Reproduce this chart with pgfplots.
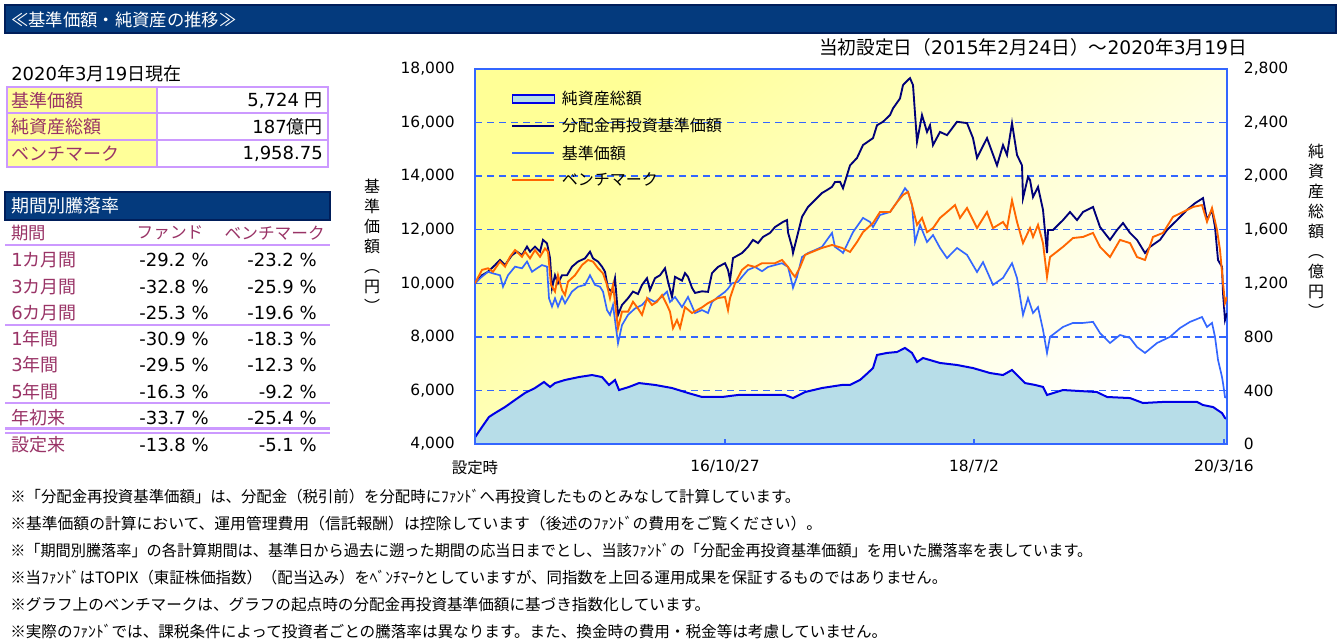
\documentclass[border=0pt]{standalone}
\usepackage{fontspec}
\setmainfont{Noto Sans CJK JP}
\newfontfamily\dv{DejaVu Sans}
\usepackage{graphicx}
\usepackage{pgfplots}
\usepackage{pgfplotstable}
\pgfplotsset{compat=1.18}
\pgfplotsset{/pgf/number format/assume math mode=true,/pgf/number format/1000 sep={,}}
\pgfplotsset{
  my line legend/.style={legend image code/.code={\draw[##1] (0pt,0pt) -- (31.5pt,0pt);}},
  my area legend/.style={legend image code/.code={\draw[##1] (0pt,-3pt) rectangle (31.5pt,3pt);}},
}

\definecolor{hdr}{RGB}{4,58,125}
\definecolor{hdrdark}{RGB}{0,30,90}
\definecolor{maroon}{RGB}{153,51,102}
\definecolor{lav}{RGB}{204,153,255}
\definecolor{cellyel}{RGB}{255,255,153}
\definecolor{navyl}{RGB}{0,0,120}
\definecolor{fundblue}{RGB}{51,102,255}
\definecolor{orangel}{RGB}{255,102,0}
\definecolor{areaf}{RGB}{183,221,232}
\definecolor{areal}{RGB}{0,0,230}
\definecolor{gridc}{RGB}{51,102,255}
\definecolor{framec}{RGB}{51,102,255}
\definecolor{bgy}{RGB}{255,255,150}
\newcommand{\fz}[1]{\fontsize{#1}{#1}\selectfont}

\pgfplotstableread{
x y
0 50
7 127
14 202
20 231
30 276
40 329
50 381
60 418
69 463
75 426
80 455
90 478
104 500
117 515
127 500
134 441
140 478
144 403
154 426
164 455
180 441
197 418
213 381
227 351
247 351
263 366
280 366
297 366
310 366
318 343
330 388
347 418
367 441
375 441
385 478
392 525
398 567
402 665
412 680
422 687
430 717
437 680
442 612
448 642
465 605
482 590
498 567
515 530
528 515
537 553
545 493
550 455
560 441
568 426
572 366
588 403
622 388
632 351
655 343
668 306
688 314
722 314
728 291
738 276
747 231
750 194
752 187
}\assets

\pgfplotstableread{
x y
0 10000
7 10300
13 10430
20 10680
25 10870
30 10680
37 11050
42 11180
47 11050
52 11370
55 11180
60 11370
65 11180
68 11620
72 11490
75 10950
77 9820
80 10300
83 10000
87 10300
92 10300
97 10620
103 10810
110 10930
115 11180
118 10930
123 10810
127 10620
130 10430
133 9810
137 9690
140 10190
143 8820
147 9190
153 9440
158 9690
163 9600
167 9940
172 10190
175 9750
180 10190
185 10300
190 10560
193 10060
197 9490
200 10240
207 10100
210 10380
213 10240
217 9830
220 9640
227 9700
233 9680
237 10380
243 10610
250 10750
253 10500
255 10120
258 10940
267 11130
273 11360
278 11620
283 11500
288 11730
295 11880
300 12100
308 12290
312 12360
313 11900
317 11360
318 11130
322 11730
327 12480
333 12850
340 13110
347 13370
352 13480
357 13600
360 13780
365 13790
368 13550
375 14400
382 14680
388 15160
398 15420
402 15900
408 16030
415 16280
418 16530
425 16900
428 17400
433 17590
435 17660
438 17400
442 15280
447 16280
452 15650
455 15900
458 15160
465 15650
472 15530
482 16030
492 15980
498 15420
502 14680
512 15420
522 14400
528 15160
532 14790
537 15980
542 14790
547 14400
548 13180
553 13970
555 13860
558 13220
563 13600
568 12740
572 11130
573 11990
578 11990
588 12360
595 12660
602 12360
608 12660
618 12850
625 12100
635 11620
642 11990
648 12250
655 11880
662 11620
670 11130
675 11360
685 11620
692 11990
702 12360
712 12740
720 12990
728 13180
732 12360
737 12740
740 12100
743 10870
747 10610
748 9640
750 8630
752 8890
}\navyT

\pgfplotstableread{
x y
0 10000
7 10250
13 10430
18 10370
25 10300
28 9870
33 10300
40 10620
47 10560
52 10810
57 10430
62 10560
67 10680
72 10620
74 9440
77 9130
80 9440
83 9130
87 9500
90 9250
97 9690
103 9870
110 9940
115 10300
120 9940
125 9870
128 9690
132 9000
135 8820
138 9190
143 7760
147 8440
153 8820
160 9060
167 9190
173 9440
180 9300
187 9500
192 9690
195 9300
200 9490
207 9110
213 9490
220 8890
227 9000
233 8890
237 9300
243 9490
250 9680
253 9800
257 10000
263 10050
267 10240
273 10500
280 10610
287 10450
293 10610
300 10680
307 10750
313 10610
317 10000
318 9830
322 10240
327 10980
333 11130
340 11240
347 11360
352 11620
357 11880
360 11360
367 11170
368 11130
378 11910
388 12440
395 12290
398 12100
405 12550
415 12660
422 13030
430 13550
433 13410
437 12920
440 11540
445 12180
452 11540
458 11800
465 11320
472 10940
482 11320
492 11060
502 10420
508 10790
518 9940
528 10200
537 10750
542 10200
548 8820
553 9450
558 8890
563 9110
568 8260
572 7400
575 8000
588 8370
598 8520
608 8520
618 8560
625 8140
635 7770
645 8070
655 7960
662 7620
670 7400
682 7770
695 8000
705 8330
715 8560
727 8740
732 8370
737 8520
740 8000
743 7140
747 6500
748 6270
750 5750
752 5724
}\blueT

\pgfplotstableread{
x y
0 10000
7 10500
13 10560
18 10430
25 10810
30 10620
35 10990
40 11240
47 10990
50 11180
55 10930
60 11240
65 10990
70 11300
73 11180
76 9940
80 9690
83 10300
87 9750
90 9560
93 10060
100 10300
107 10680
113 10870
118 10810
123 10560
128 10370
132 9940
135 9440
138 9940
143 8320
147 8940
153 8940
158 9310
163 9060
167 8820
172 9440
177 9190
182 9310
187 9560
192 9190
195 8940
198 8320
202 8630
205 8330
210 9110
217 8890
227 9100
233 9260
243 9450
250 9490
253 9000
255 9450
260 10000
267 10500
273 10680
280 10610
287 10750
300 10750
307 10870
313 10610
317 10380
320 10240
325 10600
330 11060
337 11170
347 11320
357 11430
367 11320
375 11170
382 11540
388 11910
398 12250
405 12660
415 12660
422 13030
428 13300
433 13410
437 12920
442 12180
447 12440
452 11910
458 12060
465 12440
472 12660
480 12920
485 12440
492 12810
502 12060
512 12660
518 12060
528 12290
532 12060
537 13100
542 12290
548 11500
555 12060
558 11730
563 12180
568 11500
572 10240
575 10980
588 11360
598 11690
608 11730
618 11880
625 11360
635 10980
645 11620
655 11500
662 10980
670 10870
678 11730
688 11880
698 12480
708 12660
718 12850
727 12920
732 12300
737 12810
742 11990
745 11240
748 10000
750 9260
752 9490
}\orangeT

\begin{document}
\begin{tikzpicture}
\begin{scope}[x=0.75pt,y=-0.75pt,every node/.style={inner sep=0pt}]
\useasboundingbox (0,0) rectangle (1341,641);
% header bar
\fill[hdr] (5,5) rectangle (1336,33);
\draw[hdrdark,line width=0.8pt] (5,5) rectangle (1336,33);
\node[anchor=west,text=white,font=\fz{13}] at (11,19.5) {≪基準価額・純資産の推移≫};
% date
\node[anchor=west,font=\fz{13.5}] at (11,74) {{\dv 2020}年{\dv 3}月{\dv 19}日現在};
% table 1
\fill[cellyel] (7,87) rectangle (157,167);
\draw[lav,line width=1.5pt] (7,87) rectangle (328,167);
\draw[lav,line width=1.5pt] (7,113.5) -- (328,113.5) (7,140) -- (328,140) (157,87) -- (157,167);
\node[anchor=west,text=maroon,font=\fz{13.5}] at (11,100.5) {基準価額};
\node[anchor=west,text=maroon,font=\fz{13.5}] at (11,127) {純資産総額};
\node[anchor=west,text=maroon,font=\fz{13.5}] at (11,154) {ベンチマーク};
\node[anchor=east,font=\fz{13.5}] at (323,100.5) {{\dv 5,724 }円};
\node[anchor=east,font=\fz{13.5}] at (323,127) {{\dv 187}億円};
\node[anchor=east,font=\fz{13.5}] at (323,154) {\dv 1,958.75};
% table 2
\fill[hdr] (5,192) rectangle (330,220);
\draw[hdrdark,line width=0.8pt] (5,192) rectangle (330,220);
\node[anchor=west,text=white,font=\fz{13.5}] at (11,206) {期間別騰落率};
\node[anchor=west,text=maroon,font=\fz{13}] at (11,233) {期間};
\node[text=maroon,font=\fz{12.5}] at (170,233) {ファンド};
\node[anchor=east,text=maroon,font=\fz{12.5}] at (325,233) {ベンチマーク};
\draw[lav,line width=2.2pt] (5,245) -- (330,245);
\draw[lav,line width=2.2pt] (5,325) -- (330,325);
\draw[lav,line width=2.2pt] (5,403) -- (330,403);
\draw[lav,line width=1.6pt] (5,428.5) -- (330,428.5);
\draw[lav,line width=1.6pt] (5,433) -- (330,433);
\foreach \yy/\lab/\fa/\be in {
 260/{{\dv 1}カ月間}/-29.2/-23.2,
 287/{{\dv 3}カ月間}/-32.8/-25.9,
 313/{{\dv 6}カ月間}/-25.3/-19.6,
 339/{{\dv 1}年間}/-30.9/-18.3,
 365/{{\dv 3}年間}/-29.5/-12.3,
 392/{{\dv 5}年間}/-16.3/-9.2,
 418/{年初来}/-33.7/-25.4,
 445/{設定来}/-13.8/-5.1}{
 \node[anchor=west,text=maroon,font=\fz{13.5}] at (11,\yy) {\lab};
 \node[anchor=east,font=\dv\fz{13.5}] at (209,\yy) {\fa\ \%};
 \node[anchor=east,font=\dv\fz{13.5}] at (317,\yy) {\be\ \%};
}
% chart title
\node[anchor=east,font=\fz{14}] at (1247,47) {当初設定日（{\dv 2015}年{\dv 2}月{\dv 24}日）～{\dv 2020}年{\dv 3}月{\dv 19}日};
% axis labels
\node[align=center,font=\fontsize{12}{15}\selectfont] at (372,246) {基\\準\\価\\額\\︵\\円\\︶};
\node[align=center,font=\fontsize{12}{15}\selectfont] at (1316,231) {純\\資\\産\\総\\額\\︵\\億\\円\\︶};
% footnotes
\node[anchor=west,font=\fz{11.7}] at (10,497) {\resizebox{592.5pt}{\height}{※「分配金再投資基準価額」は、分配金（税引前）を分配時にﾌｧﾝﾄﾞへ再投資したものとみなして計算しています。}};
\node[anchor=west,font=\fz{11.7}] at (10,524) {\resizebox{609pt}{\height}{※基準価額の計算において、運用管理費用（信託報酬）は控除しています（後述のﾌｧﾝﾄﾞの費用をご覧ください）。}};
\node[anchor=west,font=\fz{11.7}] at (10,551) {\resizebox{811.5pt}{\height}{※「期間別騰落率」の各計算期間は、基準日から過去に遡った期間の応当日までとし、当該ﾌｧﾝﾄﾞの「分配金再投資基準価額」を用いた騰落率を表しています。}};
\node[anchor=west,font=\fz{11.7}] at (10,578) {\resizebox{702.75pt}{\height}{※当ﾌｧﾝﾄﾞはTOPIX（東証株価指数）（配当込み）をﾍﾞﾝﾁﾏｰｸとしていますが、同指数を上回る運用成果を保証するものではありません。}};
\node[anchor=west,font=\fz{11.7}] at (10,605) {\resizebox{525pt}{\height}{※グラフ上のベンチマークは、グラフの起点時の分配金再投資基準価額に基づき指数化しています。}};
\node[anchor=west,font=\fz{11.7}] at (10,632) {\resizebox{657.75pt}{\height}{※実際のﾌｧﾝﾄﾞでは、課税条件によって投資者ごとの騰落率は異なります。また、換金時の費用・税金等は考慮していません。}};
\end{scope}

% ---------- axis 1 : net assets (right) ----------
\begin{axis}[
  at={(356.25pt,-333pt)}, anchor=south west,
  scale only axis, width=564pt, height=281.25pt,
  xmin=0, xmax=752, ymin=0, ymax=2800,
  axis x line=none, axis y line*=right,
  axis line style={draw=framec, line width=1.5pt},
  ytick={0,400,...,2800},
  scaled y ticks=false,
  ymajorgrids,
  grid style={gridc, line width=1.1pt, dash pattern=on 5.5pt off 3.5pt},
  ytick style={draw=none},
  yticklabel style={font=\dv\fz{11.6}, inner sep=0pt, anchor=west, xshift=12.5pt},
  axis background/.style={shade, top color=bgy, bottom color=white, shading angle=40},
]
\addplot[fill=areaf, draw=none] table {\assets} \closedcycle;
\addplot[areal, line width=1.5pt] table {\assets};
\end{axis}

% ---------- axis 2 : prices (left) ----------
\begin{axis}[
  at={(356.25pt,-333pt)}, anchor=south west,
  scale only axis, width=564pt, height=281.25pt,
  xmin=0, xmax=752, ymin=4000, ymax=18000,
  axis line style={draw=framec, line width=1.5pt},
  ytick={4000,6000,...,18000}, ytick pos=left,
  scaled y ticks=false,
  xtick={0,250,499,749}, xtick pos=bottom,
  xticklabels={設定時,{\dv 16/10/27},{\dv 18/7/2},{\dv 20/3/16}},
  tick align=inside,
  xtick style={draw=framec, line width=1pt},
  major tick length=4pt,
  ytick style={draw=none},
  yticklabel style={font=\dv\fz{11.6}, inner sep=0pt, anchor=east, xshift=-15pt},
  xticklabel style={font=\fz{11.6}, inner sep=0pt, anchor=north, yshift=-12pt},
  legend style={at={(0.048,0.945)}, anchor=north west, draw=none, fill=none,
    inner sep=0pt, font=\fz{12}, row sep=6.8pt, column sep=4pt,
    nodes={inner sep=1pt, anchor=west}},
  legend cell align=left,
  my line legend,
]
\addlegendimage{fill=areaf, draw=areal, line width=1.2pt, my area legend}
\addlegendentry{純資産総額}
\addlegendimage{color=navyl, line width=1.4pt, solid}
\addlegendentry{分配金再投資基準価額}
\addlegendimage{color=fundblue, line width=1.4pt, solid}
\addlegendentry{基準価額}
\addlegendimage{color=orangel, line width=1.4pt, solid}
\addlegendentry{ベンチマーク}
\addplot[navyl, line width=1.4pt, forget plot] table {\navyT};
\addplot[fundblue, line width=1.25pt, forget plot] table {\blueT};
\addplot[orangel, line width=1.4pt, forget plot] table {\orangeT};
\end{axis}
\end{tikzpicture}
\end{document}
